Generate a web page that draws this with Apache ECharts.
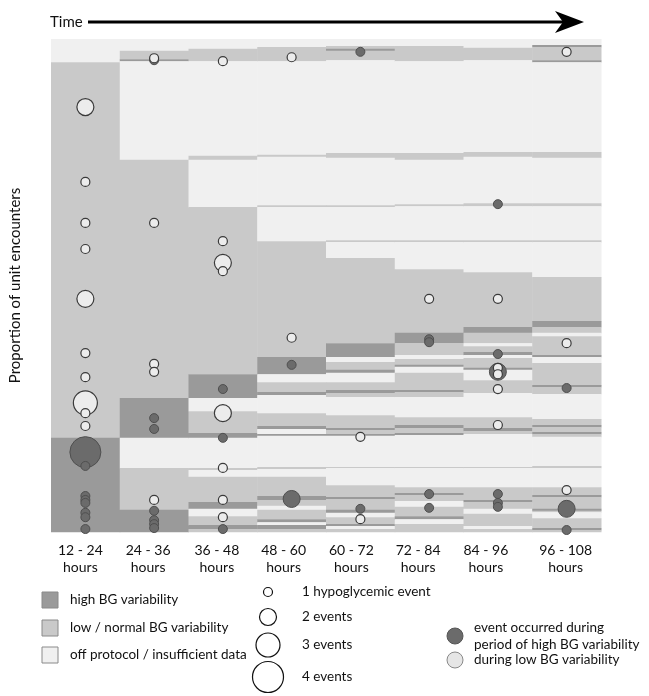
<!DOCTYPE html>
<html>
<head>
<meta charset="utf-8">
<script src="https://cdn.jsdelivr.net/npm/echarts@6/dist/echarts.min.js"></script>
<style>
html,body{margin:0;padding:0;background:#fff;}
#chart{width:649px;height:696px;}
</style>
</head>
<body>
<div id="chart"></div>
<script>
// ---------- DATA ----------
const categories = ['12 - 24\nhours','24 - 36\nhours','36 - 48\nhours','48 - 60\nhours','60 - 72\nhours','72 - 84\nhours','84 - 96\nhours','96 - 108\nhours'];
const bandNames = { H: 'high BG variability', L: 'low / normal BG variability', O: 'off protocol / insufficient data' };

// Each column: stacked bands from top, [type, cumulative end (% of unit encounters)]
const col12_24 = [['O',4.7],['L',80.9],['H',100]];
const col24_36 = [['O',2.4],['L',4.1],['H',4.5],['O',24.5],['L',72.8],['H',80.9],['O',87.0],['L',95.5],['H',100]];
const col36_48 = [['O',2.0],['L',4.5],['O',23.7],['L',24.5],['O',34.1],['L',68.0],['H',72.8],['O',75.5],['L',79.9],['H',80.9],['O',87.0],['L',87.4],['O',88.8],['L',93.9],['H',95.3],['O',96.8],['L',98.6],['H',99.4],['L',100]];
const col48_60 = [['O',1.6],['L',4.5],['O',23.5],['L',23.9],['O',33.7],['L',34.1],['O',41.0],['L',64.5],['H',68.0],['O',69.6],['L',71.6],['H',72.2],['O',75.9],['L',78.5],['H',79.1],['O',80.1],['H',80.5],['O',86.8],['L',87.2],['O',88.8],['L',92.7],['H',93.5],['L',94.7],['O',95.5],['L',97.4],['H',98.0],['O',98.6],['H',99.4],['L',100]];
const col60_72 = [['O',1.4],['L',2.0],['H',2.4],['L',4.3],['O',23.1],['L',24.1],['O',33.7],['L',34.1],['O',40.8],['L',41.2],['O',44.4],['L',61.7],['H',64.5],['O',65.5],['L',67.1],['H',67.7],['O',69.6],['L',71.2],['H',71.8],['L',72.6],['O',76.3],['L',78.9],['H',79.3],['L',80.1],['H',80.5],['O',86.8],['L',87.0],['O',90.5],['L',92.9],['H',93.3],['L',95.5],['H',96.1],['O',97.0],['L',98.4],['H',98.8],['O',99.4],['L',100]];
const col72_84 = [['O',1.4],['L',4.5],['O',23.1],['L',24.5],['O',33.5],['L',33.9],['O',40.8],['L',41.2],['O',46.7],['L',59.6],['H',61.7],['L',64.1],['O',64.9],['L',66.1],['H',66.5],['O',67.7],['L',71.2],['H',71.6],['L',72.6],['O',76.7],['L',78.3],['H',78.9],['L',79.9],['H',80.3],['O',86.8],['L',87.0],['O',90.9],['L',92.1],['H',92.5],['L',93.7],['O',94.9],['L',96.8],['H',97.4],['O',98.4],['L',100]];
const col84_96 = [['O',1.8],['L',4.3],['O',22.9],['L',23.9],['O',33.3],['L',33.9],['O',40.8],['L',41.2],['O',47.3],['L',58.4],['H',59.6],['L',61.7],['O',62.3],['L',63.5],['H',64.1],['O',64.7],['L',66.7],['H',67.1],['O',69.2],['L',71.8],['O',76.7],['L',78.9],['H',79.5],['L',80.1],['O',86.8],['L',87.0],['O',90.9],['L',93.5],['H',93.9],['L',95.3],['O',96.3],['L',98.8],['O',99.4],['L',100]];
const col96_108 = [['O',1.2],['H',1.6],['L',4.3],['H',4.7],['O',22.9],['L',24.1],['O',33.3],['L',33.9],['O',40.8],['L',41.2],['O',48.3],['L',57.2],['H',58.4],['L',59.6],['O',60.3],['L',64.1],['H',64.5],['O',65.7],['L',70.2],['H',70.6],['L',72.0],['O',77.1],['L',78.3],['H',78.7],['L',79.7],['H',80.1],['L',80.7],['O',86.6],['L',87.0],['O',90.9],['L',92.5],['H',92.9],['L',95.3],['H',95.7],['L',96.0],['O',97.2],['L',99.2],['H',99.6],['L',100]];
const columns = [col12_24,col24_36,col36_48,col48_60,col60_72,col72_84,col84_96,col96_108];

// Hypoglycemic events: [column index, position (%), number of events]
const eventsHigh = [
  [0,83.8,4],[0,86.6,1],[0,92.7,1],[0,93.5,1],[0,94.1,1],[0,96.1,1],[0,97.0,1],[0,99.4,1],
  [1,4.3,1],[1,76.9,1],[1,79.1,1],[1,95.7,1],[1,97.6,1],[1,98.4,1],[1,99.2,1],
  [2,71.0,1],[2,80.9,1],[2,99.4,1],
  [3,66.1,1],[3,93.3,2],
  [4,2.6,1],[4,95.3,1],
  [5,60.9,1],[5,61.5,1],[5,92.3,1],[5,95.1,1],
  [6,33.5,1],[6,63.9,1],[6,67.5,2],[6,92.3,1],[6,94.1,1],[6,94.9,1],
  [7,70.8,1],[7,95.3,2],[7,99.6,1]
];
const eventsLow = [
  [0,13.8,2],[0,29.0,1],[0,37.3,1],[0,42.6,1],[0,52.7,2],[0,63.7,1],[0,68.6,1],[0,73.8,3],[0,75.9,1],[0,78.5,1],
  [1,3.9,1],[1,37.3,1],[1,65.9,1],[1,67.5,1],[1,93.5,1],
  [2,4.5,1],[2,41.0,1],[2,45.4,2],[2,47.1,1],[2,75.9,2],[2,87.0,1],[2,93.5,1],[2,97.0,1],
  [3,3.7,1],[3,60.6,1],
  [4,80.7,1],[4,97.4,1],
  [5,52.7,1],
  [6,52.7,1],[6,66.7,1],[6,68.0,1],[6,71.0,1],[6,78.3,1],
  [7,2.6,1],[7,61.7,1],[7,91.5,1]
];
const eventSizes = [0, 9, 17, 24, 31];

// ---------- BUILD ----------
const colors = { H: '#9a9a9a', L: '#c9c9c9', O: '#f0f0f0' };
const bandData = [];
columns.forEach((col, ci) => {
  let start = 0;
  col.forEach(([t, end]) => {
    bandData.push({ value: [ci, start, end], itemStyle: { color: colors[t] }, name: bandNames[t] });
    start = end;
  });
});

const FONT = 'Lato';
const chart = echarts.init(document.getElementById('chart'), null, { renderer: 'canvas' });

// per-label horizontal nudge (label placement style of the original figure)
const labelNudge = [5, 6, 6, 8, 9, 11, 12, 1];
const rich = {};
labelNudge.forEach((n, i) => {
  rich['s' + i] = { fontSize: 14, lineHeight: 17, color: '#111', fontFamily: FONT, padding: [0, 2 * n, 0, 0] };
});

const legendGraphics = [];
[['H','high BG variability',592],['L','low / normal BG variability',620],['O','off protocol / insufficient data',647]].forEach(([t, label, y]) => {
  legendGraphics.push({ type: 'rect', shape: { x: 42, y: y, width: 16, height: 16 }, style: { fill: colors[t], stroke: '#8a8a8a', lineWidth: 1 } });
  legendGraphics.push({ type: 'text', style: { x: 70, y: y + 8, text: label, fontFamily: FONT, fontSize: 13.5, fill: '#111', textVerticalAlign: 'middle', verticalAlign: 'middle' } });
});
[[1,592,'1 hypoglycemic event'],[2,617,'2 events'],[3,645,'3 events'],[4,677,'4 events']].forEach(([n, y, label]) => {
  legendGraphics.push({ type: 'circle', shape: { cx: 268, cy: y, r: eventSizes[n] / 2 }, style: { fill: '#fff', stroke: '#111', lineWidth: 1.2 } });
  legendGraphics.push({ type: 'text', style: { x: 302, y: y, text: label, fontFamily: FONT, fontSize: 13.5, fill: '#111', verticalAlign: 'middle', textVerticalAlign: 'middle' } });
});
legendGraphics.push({ type: 'circle', shape: { cx: 455, cy: 636, r: 8 }, style: { fill: '#6b6b6b', stroke: '#555', lineWidth: 1 } });
legendGraphics.push({ type: 'text', style: { x: 474, y: 628, text: 'event occurred during', fontFamily: FONT, fontSize: 13.5, fill: '#111', verticalAlign: 'middle', textVerticalAlign: 'middle' } });
legendGraphics.push({ type: 'text', style: { x: 474, y: 645, text: 'period of high BG variability', fontFamily: FONT, fontSize: 13.5, fill: '#111', verticalAlign: 'middle', textVerticalAlign: 'middle' } });
legendGraphics.push({ type: 'circle', shape: { cx: 455, cy: 660, r: 8 }, style: { fill: '#e6e6e6', stroke: '#888', lineWidth: 1 } });
legendGraphics.push({ type: 'text', style: { x: 474, y: 660, text: 'during low BG variability', fontFamily: FONT, fontSize: 13.5, fill: '#111', verticalAlign: 'middle', textVerticalAlign: 'middle' } });

const arrowGraphics = [
  { type: 'text', style: { x: 50, y: 22, text: 'Time', fontFamily: FONT, fontSize: 15, fill: '#111', verticalAlign: 'middle', textVerticalAlign: 'middle' } },
  { type: 'line', shape: { x1: 88, y1: 22, x2: 566, y2: 22 }, style: { stroke: '#000', lineWidth: 3 } },
  { type: 'polygon', shape: { points: [[584, 22], [555, 11], [563, 22], [555, 33]] }, style: { fill: '#000' } }
];

function renderBand(params, api) {
  const ci = api.value(0);
  const p0 = api.coord([ci, api.value(1)]);
  const p1 = api.coord([ci, api.value(2)]);
  const w = api.coord([1, 0])[0] - api.coord([0, 0])[0];
  return {
    type: 'rect',
    shape: { x: p0[0] - w / 2, y: p0[1], width: w + 0.5, height: p1[1] - p0[1] + 0.3 },
    style: api.style({ stroke: null }),
    silent: true
  };
}

chart.setOption({
  animation: false,
  textStyle: { fontFamily: FONT },
  grid: { left: 46, right: 48, top: 39, bottom: 164 },
  xAxis: {
    type: 'category',
    data: categories,
    axisLine: { show: false },
    axisTick: { show: false },
    axisLabel: {
      interval: 0, color: '#111', fontSize: 14, lineHeight: 17, margin: 10, fontFamily: FONT,
      formatter: (val, idx) => val.split('\n').map(s => '{s' + idx + '|' + s + '}').join('\n'),
      rich: rich
    }
  },
  yAxis: {
    type: 'value', min: 0, max: 100, inverse: true,
    axisLine: { show: false }, axisTick: { show: false }, axisLabel: { show: false }, splitLine: { show: false },
    name: 'Proportion of unit encounters', nameLocation: 'middle', nameGap: 28, nameRotate: 90,
    nameTextStyle: { fontSize: 15, color: '#111', fontFamily: FONT }
  },
  series: [
    { type: 'custom', name: 'bands', renderItem: renderBand, encode: { x: 0, y: [1, 2] }, data: bandData, z: 1 },
    { type: 'scatter', name: 'event occurred during period of high BG variability', data: eventsHigh,
      symbolSize: v => eventSizes[v[2]],
      itemStyle: { color: '#6b6b6b', borderColor: '#4f4f4f', borderWidth: 1, opacity: 1 }, z: 3 },
    { type: 'scatter', name: 'during low BG variability', data: eventsLow,
      symbolSize: v => eventSizes[v[2]],
      itemStyle: { color: '#ececec', borderColor: '#3a3a3a', borderWidth: 1.2, opacity: 1 }, z: 4 }
  ],
  graphic: arrowGraphics.concat(legendGraphics)
});
</script>
</body>
</html>
